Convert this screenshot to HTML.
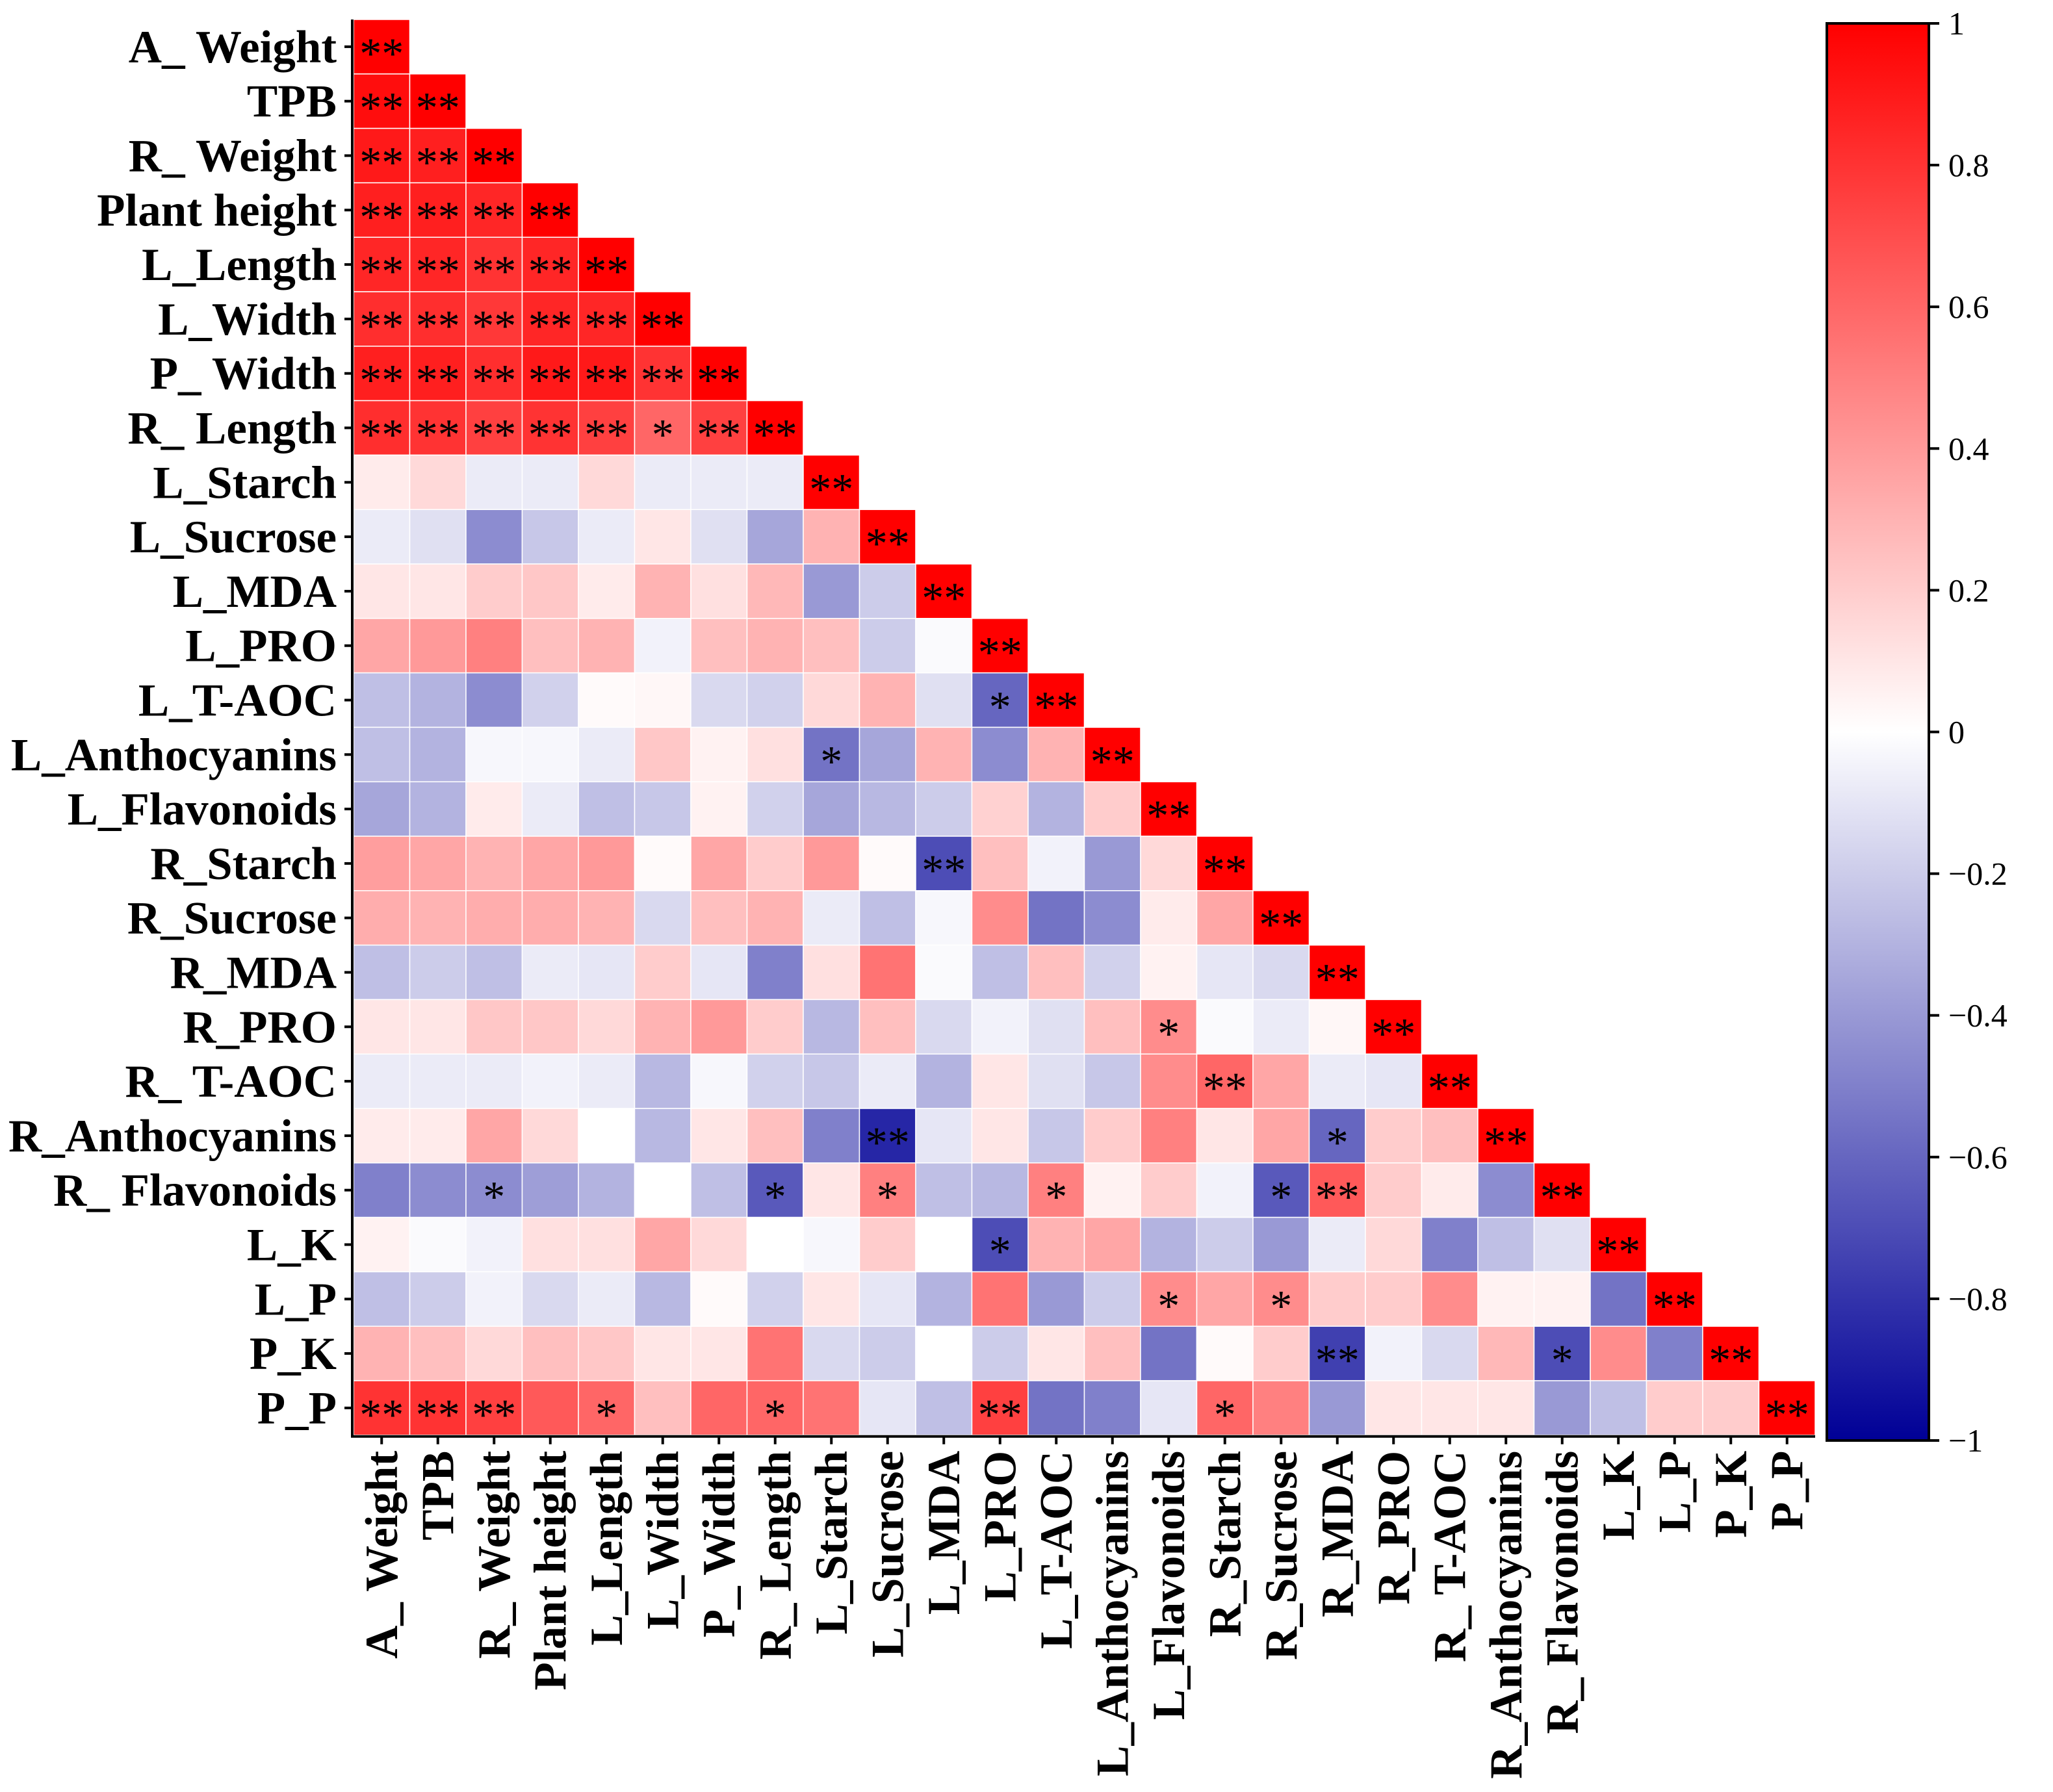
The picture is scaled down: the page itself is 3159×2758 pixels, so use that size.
<!DOCTYPE html>
<html><head><meta charset="utf-8">
<style>html,body{margin:0;padding:0;background:#fff}svg{display:block}</style>
</head><body>
<svg id="chart" width="3159" height="2758" viewBox="0 0 3159 2758" xmlns="http://www.w3.org/2000/svg" font-family="Liberation Serif, serif"></svg>
<script>
const rowLabels = ["A_ Weight","TPB","R_ Weight","Plant height","L_Length","L_Width","P_ Width","R_ Length","L_Starch","L_Sucrose","L_MDA","L_PRO","L_T-AOC","L_Anthocyanins","L_Flavonoids","R_Starch","R_Sucrose","R_MDA","R_PRO","R_ T-AOC","R_Anthocyanins","R_ Flavonoids","L_K","L_P","P_K","P_P"];
const colLabels = ["A_ Weight","TPB","R_ Weight","Plant height","L_Length","L_Width","P_ Width","R_ Length","L_Starch","L_Sucrose","L_MDA","L_PRO","L_T-AOC","L_Anthocyanins","L_Flavonoids","R_Starch","R_Sucrose","R_MDA","R_PRO","R_ T-AOC","R_Anthocyanins","R_ Flavonoids","L_K","L_P","P_K","P_P"];
const values = [
[1],
[0.95,1],
[0.9,0.88,1],
[0.88,0.88,0.85,1],
[0.85,0.85,0.8,0.85,1],
[0.82,0.82,0.78,0.85,0.85,1],
[0.88,0.88,0.82,0.9,0.9,0.8,1],
[0.82,0.8,0.75,0.8,0.75,0.6,0.75,1],
[0.08,0.15,-0.08,-0.08,0.15,-0.08,-0.08,-0.08,1],
[-0.08,-0.12,-0.45,-0.22,-0.08,0.1,-0.12,-0.35,0.3,1],
[0.1,0.1,0.2,0.22,0.08,0.3,0.12,0.28,-0.4,-0.2,1],
[0.35,0.4,0.5,0.25,0.3,-0.05,0.25,0.3,0.25,-0.2,-0.02,1],
[-0.25,-0.3,-0.45,-0.18,0.02,0.03,-0.15,-0.18,0.15,0.3,-0.12,-0.6,1],
[-0.25,-0.3,-0.03,-0.03,-0.08,0.22,0.05,0.12,-0.55,-0.35,0.3,-0.45,0.3,1],
[-0.35,-0.3,0.08,-0.08,-0.25,-0.22,0.05,-0.18,-0.35,-0.28,-0.2,0.18,-0.3,0.2,1],
[0.38,0.35,0.3,0.35,0.4,0.02,0.35,0.2,0.4,0.02,-0.7,0.25,-0.05,-0.4,0.15,1],
[0.32,0.3,0.32,0.32,0.3,-0.15,0.25,0.3,-0.08,-0.25,-0.03,0.45,-0.55,-0.45,0.08,0.35,1],
[-0.25,-0.2,-0.25,-0.08,-0.1,0.2,-0.1,-0.5,0.12,0.55,-0.02,-0.25,0.25,-0.18,0.05,-0.1,-0.15,1],
[0.1,0.1,0.22,0.22,0.15,0.3,0.4,0.2,-0.28,0.25,-0.15,-0.05,-0.12,0.25,0.45,-0.02,-0.08,0.03,1],
[-0.08,-0.08,-0.08,-0.05,-0.08,-0.28,-0.03,-0.18,-0.22,-0.08,-0.3,0.1,-0.12,-0.22,0.45,0.6,0.35,-0.08,-0.1,1],
[0.08,0.08,0.35,0.15,0,-0.28,0.1,0.25,-0.5,-0.85,-0.1,0.1,-0.22,0.2,0.5,0.1,0.35,-0.6,0.2,0.25,1],
[-0.5,-0.45,-0.45,-0.38,-0.3,0,-0.25,-0.65,0.1,0.5,-0.25,-0.28,0.5,0.05,0.2,-0.05,-0.65,0.65,0.2,0.08,-0.45,1],
[0.05,-0.02,-0.05,0.12,0.12,0.35,0.15,0,-0.03,0.2,0,-0.7,0.3,0.35,-0.3,-0.2,-0.4,-0.08,0.15,-0.5,-0.25,-0.12,1],
[-0.25,-0.2,-0.05,-0.15,-0.08,-0.28,0.02,-0.18,0.1,-0.1,-0.3,0.55,-0.4,-0.2,0.45,0.35,0.45,0.2,0.2,0.45,0.05,0.05,-0.55,1],
[0.3,0.25,0.15,0.25,0.22,0.1,0.1,0.55,-0.15,-0.2,0,-0.2,0.1,0.25,-0.55,0.02,0.2,-0.75,-0.05,-0.15,0.28,-0.7,0.45,-0.5,1],
[0.8,0.8,0.75,0.65,0.6,0.25,0.6,0.6,0.55,-0.1,-0.25,0.75,-0.55,-0.5,-0.1,0.6,0.5,-0.4,0.1,0.1,0.1,-0.4,-0.25,0.2,0.2,1]
];
const stars = [
["**"],
["**","**"],
["**","**","**"],
["**","**","**","**"],
["**","**","**","**","**"],
["**","**","**","**","**","**"],
["**","**","**","**","**","**","**"],
["**","**","**","**","**","*","**","**"],
["","","","","","","","","**"],
["","","","","","","","","","**"],
["","","","","","","","","","","**"],
["","","","","","","","","","","","**"],
["","","","","","","","","","","","*","**"],
["","","","","","","","","*","","","","","**"],
["","","","","","","","","","","","","","","**"],
["","","","","","","","","","","**","","","","","**"],
["","","","","","","","","","","","","","","","","**"],
["","","","","","","","","","","","","","","","","","**"],
["","","","","","","","","","","","","","","*","","","","**"],
["","","","","","","","","","","","","","","","**","","","","**"],
["","","","","","","","","","**","","","","","","","","*","","","**"],
["","","*","","","","","*","","*","","","*","","","","*","**","","","","**"],
["","","","","","","","","","","","*","","","","","","","","","","","**"],
["","","","","","","","","","","","","","","*","","*","","","","","","","**"],
["","","","","","","","","","","","","","","","","","**","","","","*","","","**"],
["**","**","**","","*","","","*","","","","**","","","","*","","","","","","","","","","**"]
];
const cbTicks = [1,0.8,0.6,0.4,0.2,0,-0.2,-0.4,-0.6,-0.8,-1];

const NS="http://www.w3.org/2000/svg";
const svg=document.getElementById('chart');
function mk(t,a,p){const e=document.createElementNS(NS,t);for(const k in a)e.setAttribute(k,a[k]);(p||svg).appendChild(e);return e;}
const X0=544,Y0=30,CW=86.5,CH=83.8;
const xPos=i=>X0+i*CW, yPos=i=>Y0+i*CH;
function color(v){
  v=Math.max(-1,Math.min(1,v));
  let r,g,b;
  if(v>=0){r=255;g=Math.round(255*(1-v));b=g;}
  else{const t=-v;r=Math.round(255*(1-t));g=r;b=Math.round(255-t*(255-150));}
  return `rgb(${r},${g},${b})`;
}
const cells=mk('g',{});


values.forEach((row,i)=>row.forEach((v,j)=>{
  const r=mk('rect',{x:xPos(j),y:yPos(i),width:CW,height:CH,fill:color(v),stroke:'#fff','stroke-width':1.5},cells);
  
  
  const s=stars[i][j];
  if(s){
    const t=mk('text',{x:xPos(j)+CW/2,y:yPos(i)+CH/2+33,'text-anchor':'middle','font-size':68},cells);
    
    
    t.textContent=s;
  }
}));
const N=rowLabels.length;
const ax=mk('g',{stroke:'#000','stroke-width':4,fill:'none'});


mk('path',{d:`M${X0-2},${Y0} V${yPos(N)+2} H${xPos(N)}`},ax);
for(let i=0;i<N;i++){
  mk('line',{x1:X0-2,x2:X0-14,y1:yPos(i)+CH/2,y2:yPos(i)+CH/2},ax);
  mk('line',{x1:xPos(i)+CW/2,x2:xPos(i)+CW/2,y1:yPos(N)+2,y2:yPos(N)+14},ax);
}
rowLabels.forEach((l,i)=>{
  const t=mk('text',{x:X0-26,y:yPos(i)+CH/2+24,'text-anchor':'end','font-size':71,'font-weight':'bold'});
  
  
  t.textContent=l;
});
colLabels.forEach((l,i)=>{
  const cx=xPos(i)+CW/2+24, cy=yPos(N)+24;
  const t=mk('text',{x:cx,y:cy,'text-anchor':'end','font-size':71,'font-weight':'bold',transform:`rotate(-90 ${cx} ${cy})`});
  
  
  t.textContent=l;
});
const CBX=2811,CBY=36,CBW=157,CBH=2181;
const defs=mk('defs',{});
const grad=mk('linearGradient',{id:'cbg',x1:0,y1:0,x2:0,y2:1},defs);
for(let k=0;k<=20;k++){const v=1-k/10;mk('stop',{offset:k/20,'stop-color':color(v)},grad);}
const cb=mk('rect',{x:CBX,y:CBY,width:CBW,height:CBH,fill:'url(#cbg)',stroke:'#000','stroke-width':4});


const cbY=v=>CBY+(1-v)/2*CBH;
cbTicks.forEach(v=>{
  mk('line',{x1:CBX+CBW,x2:CBX+CBW+16,y1:cbY(v),y2:cbY(v),stroke:'#000','stroke-width':4});
  const t=mk('text',{x:CBX+CBW+30,y:cbY(v)+17,'font-size':50});
  
  
  t.textContent=v<0?'\u2212'+Math.abs(v):String(v);
});
</script>
</body></html>
